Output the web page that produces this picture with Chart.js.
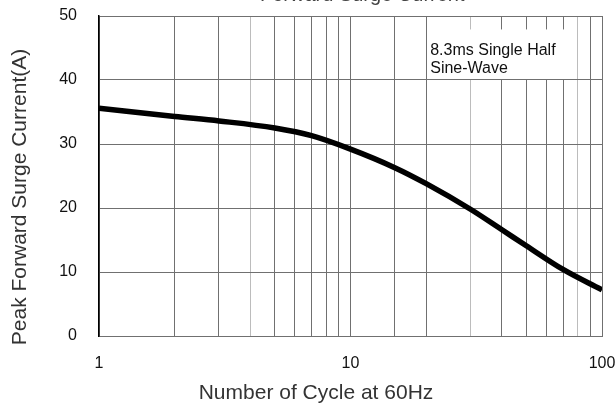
<!DOCTYPE html>
<html><head><meta charset="utf-8">
<script src="https://cdn.jsdelivr.net/npm/chart.js@4"></script>
<style>html,body{margin:0;padding:0;background:#fff;} canvas{display:block}</style>
</head><body>
<canvas id="c" width="616" height="407"></canvas>
<script>
const cycles = [1,2,3,5,7,10,15,20,30,40,50,70,100];
const surgeCurrent = [35.6,34.3,33.6,32.5,31.3,29.2,26.3,23.8,19.8,16.6,14.1,10.4,7.2];
const xTickLabels = [1,10,100];
const yTicks = [0,10,20,30,40,50];
const chartTitle = 'Forward Surge Current';
const xTitle = 'Number of Cycle at 60Hz';
const yTitle = 'Peak Forward Surge Current(A)';
const noteLines = ['8.3ms Single Half','Sine-Wave'];
const lightGridAt = [4,30,80];

const FONT = '"Liberation Sans", Arial, Helvetica, sans-serif';

const textPlugin = {
  id: 'texts',
  afterDraw(chart) {
    const ctx = chart.ctx;
    const xs = chart.scales.x, ys = chart.scales.y;
    ctx.save();
    ctx.font = '20px ' + FONT;
    ctx.fillStyle = '#444';
    ctx.textAlign = 'left';
    ctx.textBaseline = 'alphabetic';
    ctx.fillText(chartTitle, 260, 1);
    const bl = xs.getPixelForValue(20) + 1;
    const br = xs.getPixelForValue(79);
    const bt = ys.getPixelForValue(47.9);
    const bb = ys.getPixelForValue(40) - 1;
    ctx.fillStyle = '#fff';
    ctx.fillRect(bl, bt, br - bl, bb - bt);
    ctx.fillStyle = '#111';
    ctx.font = '16px ' + FONT;
    ctx.fillText(noteLines[0], bl + 3, 54.5);
    ctx.fillText(noteLines[1], bl + 3, 72.5);
    ctx.fillStyle = '#333';
    ctx.font = '21px ' + FONT;
    ctx.textAlign = 'center';
    ctx.fillText(xTitle, 316, 399);
    ctx.translate(26, 197);
    ctx.rotate(-Math.PI / 2);
    ctx.fillText(yTitle, 0, 0);
    ctx.restore();
  }
};

new Chart(document.getElementById('c'), {
  type: 'line',
  data: {
    datasets: [{
      data: cycles.map((c, i) => ({x: c, y: surgeCurrent[i]})),
      borderColor: '#000',
      borderWidth: 5.5,
      pointRadius: 0,
      fill: false,
      cubicInterpolationMode: 'monotone',
      borderCapStyle: 'butt'
    }]
  },
  options: {
    responsive: false,
    animation: false,
    events: [],
    layout: { padding: { top: 16, right: 14, left: 0, bottom: 0 } },
    plugins: { legend: { display: false }, tooltip: { enabled: false }, title: { display: false } },
    scales: {
      x: {
        type: 'logarithmic',
        min: 1, max: 100,
        afterFit(s) { s.height = 71; s.paddingLeft = 0; s.paddingRight = 0; },
        border: { display: true, color: '#707070', width: 1 },
        grid: {
          drawTicks: false,
          lineWidth: 1,
          color: (ctx) => (ctx.tick && lightGridAt.includes(ctx.tick.value)) ? '#bcbcbc' : '#707070'
        },
        ticks: {
          autoSkip: false, maxRotation: 0, padding: 18,
          color: '#111',
          font: { family: FONT, size: 16 },
          callback: (v) => xTickLabels.includes(v) ? String(v) : ''
        }
      },
      y: {
        min: 0, max: 50,
        afterFit(s) { s.width = 99; s.paddingTop = 0; s.paddingBottom = 0; },
        afterBuildTicks(s) { s.ticks = yTicks.map(v => ({value: v})); },
        border: { display: true, color: '#000', width: 1.5 },
        grid: { drawTicks: false, color: '#707070', lineWidth: 1 },
        ticks: {
          padding: 22,
          color: '#111',
          font: { family: FONT, size: 16 }
        }
      }
    }
  },
  plugins: [textPlugin]
});
</script>
</body></html>
